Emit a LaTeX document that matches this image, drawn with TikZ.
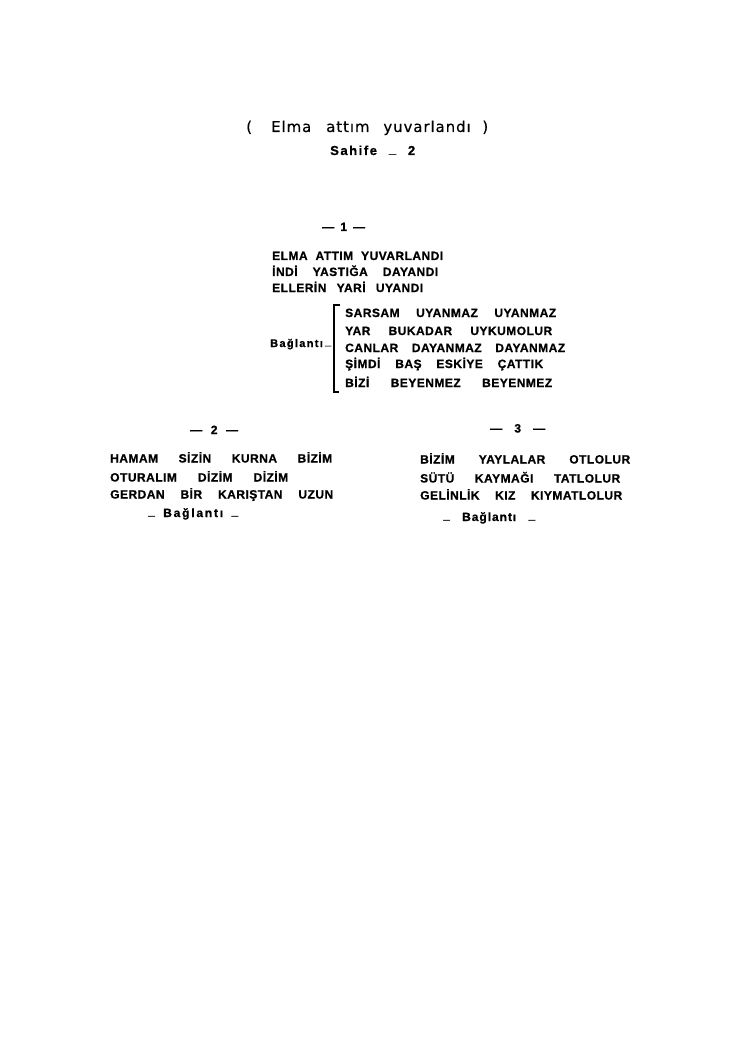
\documentclass[tikz,border=0pt]{standalone}
\usepackage{fontspec}
\setmainfont{Liberation Sans}[BoldFeatures={FakeBold=0.8}]
\newfontfamily\titlefont{DejaVu Sans}[LetterSpace=6,FakeBold=0.4]
\newcommand\lowbar{\raisebox{2pt}{\_}}
\newcommand\bagl[1]{{\addfontfeature{LetterSpace=#1}Bağlantı}}
\begin{document}
\begin{tikzpicture}[x=1pt,y=-1pt,
  txt/.style={anchor=base west, inner sep=0pt, font=\fontsize{12}{14}\selectfont\bfseries\addfontfeature{LetterSpace=4}},
  titletxt/.style={anchor=base west, inner sep=0pt, font=\titlefont\fontsize{15}{18}\selectfont},
  sahtxt/.style={anchor=base west, inner sep=0pt, font=\fontsize{13}{15}\selectfont\bfseries\addfontfeature{LetterSpace=12}},
  brk/.style={line width=1.6pt}]
\useasboundingbox[fill=white] (0,0) rectangle (750,1056);

% title
\node[titletxt] (title) at (246,132) {\makebox[242pt][s]{(\hskip0pt plus 18fil Elma\hskip0pt plus 14fil attım\hskip0pt plus 13fil yuvarlandı\hskip0pt plus 11fil)}};
\node[sahtxt] (sahife) at (330,155) {\makebox[85pt][s]{Sahife\hfill\lowbar\hfill 2}};

% block 1
\node[txt] (h1) at (322,231) {\makebox[43pt][s]{—\hfill 1\hfill —}};
\node[txt] (a1) at (272,260) {\makebox[171pt][s]{ELMA\hfill ATTIM\hfill YUVARLANDI}};
\node[txt] (a2) at (272,276) {\makebox[166pt][s]{İNDİ\hfill YASTIĞA\hfill DAYANDI}};
\node[txt] (a3) at (272,292) {\makebox[151pt][s]{ELLERİN\hfill YARİ\hfill UYANDI}};
\node[txt, font=\fontsize{11}{13}\selectfont\bfseries] (bag1) at (270,347) {\makebox[61pt][s]{\bagl{12}\hfill\lowbar}};
\node[txt] (b1) at (345,317) {\makebox[211pt][s]{SARSAM\hfill UYANMAZ\hfill UYANMAZ}};
\node[txt] (b2) at (345,335) {\makebox[207pt][s]{YAR\hfill BUKADAR\hfill UYKUMOLUR}};
\node[txt] (b3) at (345,352) {\makebox[220pt][s]{CANLAR\hfill DAYANMAZ\hfill DAYANMAZ}};
\node[txt] (b4) at (345,368) {\makebox[198pt][s]{ŞİMDİ\hfill BAŞ\hfill ESKİYE\hfill ÇATTIK}};
\node[txt] (b5) at (345,387) {\makebox[207pt][s]{BİZİ\hfill BEYENMEZ\hfill BEYENMEZ}};
\draw[brk] (340,305) -- (334,305) -- (334,392) -- (339,392);

% block 2
\node[txt] (h2) at (190,434) {\makebox[48pt][s]{—\hfill 2\hfill —}};
\node[txt] (c1) at (110,462.5) {\makebox[222pt][s]{HAMAM\hfill SİZİN\hfill KURNA\hfill BİZİM}};
\node[txt] (c2) at (110,481.5) {\makebox[178pt][s]{OTURALIM\hfill DİZİM\hfill DİZİM}};
\node[txt] (c3) at (110,498.5) {\makebox[223pt][s]{GERDAN\hfill BİR\hfill KARIŞTAN\hfill UZUN}};
\node[txt] (bag2) at (148,517) {\makebox[90pt][s]{\lowbar\hfill\bagl{15}\hfill\lowbar}};

% block 3
\node[txt] (h3) at (490,432.5) {\makebox[55pt][s]{—\hfill 3\hfill —}};
\node[txt] (d1) at (420,463.5) {\makebox[210pt][s]{BİZİM\hfill YAYLALAR\hfill OTLOLUR}};
\node[txt] (d2) at (420,482.5) {\makebox[200pt][s]{SÜTÜ\hfill KAYMAĞI\hfill TATLOLUR}};
\node[txt] (d3) at (420,499.5) {\makebox[202pt][s]{GELİNLİK\hfill KIZ\hfill KIYMATLOLUR}};
\node[txt] (bag3) at (443,521) {\makebox[92pt][s]{\lowbar\hfill\bagl{8}\hfill\lowbar}};
\end{tikzpicture}
\end{document}
